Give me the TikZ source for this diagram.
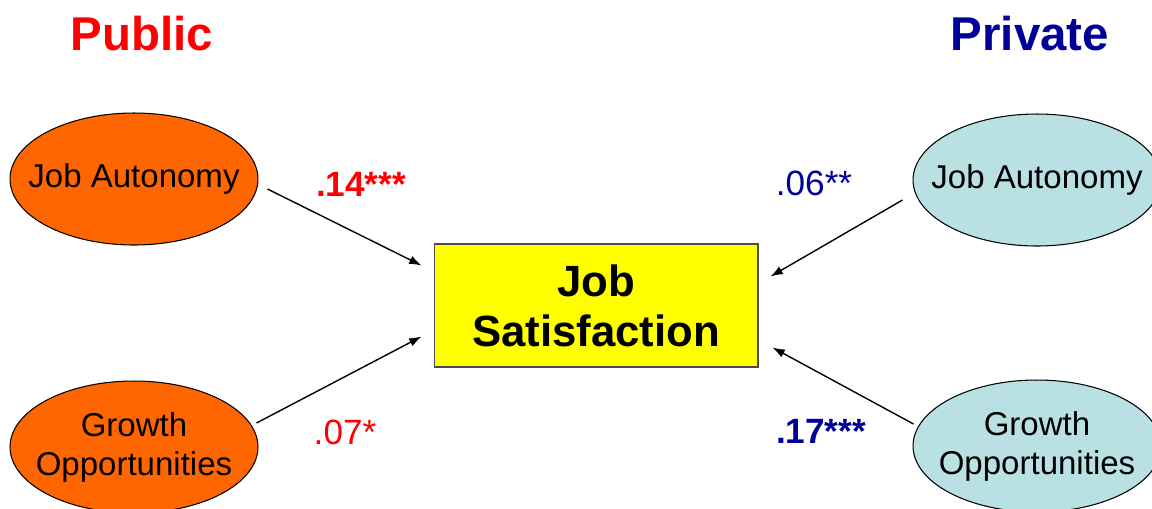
\documentclass[tikz,border=0pt]{standalone}
\usepackage{fontspec}
\setmainfont{Liberation Sans}
\usetikzlibrary{shapes.geometric,arrows.meta}
\definecolor{pubred}{RGB}{255,0,0}
\definecolor{privblue}{RGB}{0,0,153}
\definecolor{orangefill}{RGB}{255,102,0}
\definecolor{bluefill}{RGB}{185,224,227}
\definecolor{yellowfill}{RGB}{255,255,0}
\begin{document}
\begin{tikzpicture}[x=0.02cm,y=-0.02cm,
 latent/.style={ellipse, draw=black, line width=0.6pt, minimum width=4.96cm, minimum height=2.64cm, inner xsep=-2cm, inner ysep=-1.5cm, align=center, font=\fontsize{18.8}{22.2}\selectfont},
 pubnode/.style={latent, fill=orangefill},
 privnode/.style={latent, fill=bluefill},
 outcome/.style={rectangle, draw=black!70, line width=0.6pt, fill=yellowfill, minimum width=6.48cm, minimum height=2.46cm, inner sep=0pt, align=center, font=\fontsize{24.9}{28.5}\selectfont\bfseries},
 heading/.style={font=\fontsize{27}{32}\selectfont\bfseries, inner sep=0pt, anchor=base},
 coef/.style={font=\fontsize{20}{24}\selectfont, inner sep=0pt, anchor=base},
 pathline/.style={-{Latex[length=7pt,width=5pt]}, line width=0.8pt, black}
]
\useasboundingbox (0,0) rectangle (1152,508);
\node[heading, text=pubred] (pub) at (142,50.5) {Public};
\node[heading, text=privblue] (priv) at (1030,50.5) {Private};

\node[pubnode] (lja) at (134,179) {Job Autonomy};
\node[pubnode] (lgo) at (134,447) {Growth\\Opportunities};
\node[privnode] (rja) at (1037,180) {Job Autonomy};
\node[privnode] (rgo) at (1037,446) {Growth\\Opportunities};

\node[outcome] (js) at (596,305.5) {Job\\Satisfaction};

\draw[pathline] ([shift={(9,10)}]lja.east) -- ([shift={(-12,22)}]js.north west);
\draw[pathline] ([shift={(-2,-24)}]lgo.east) -- ([shift={(-12,-31)}]js.south west);
\draw[pathline] ([shift={(-10,20)}]rja.west) -- ([shift={(12,33)}]js.north east);
\draw[pathline] ([shift={(1,-22)}]rgo.west) -- ([shift={(14,-20)}]js.south east);

\node[coef, text=pubred, font=\fontsize{20}{24}\selectfont\bfseries] (c1) at (361,196) {.14***};
\node[coef, text=pubred] (c2) at (345,444) {.07*};
\node[coef, text=privblue] (c3) at (814,195) {.06**};
\node[coef, text=privblue, font=\fontsize{20}{24}\selectfont\bfseries] (c4) at (821,443) {.17***};
\end{tikzpicture}
\end{document}
